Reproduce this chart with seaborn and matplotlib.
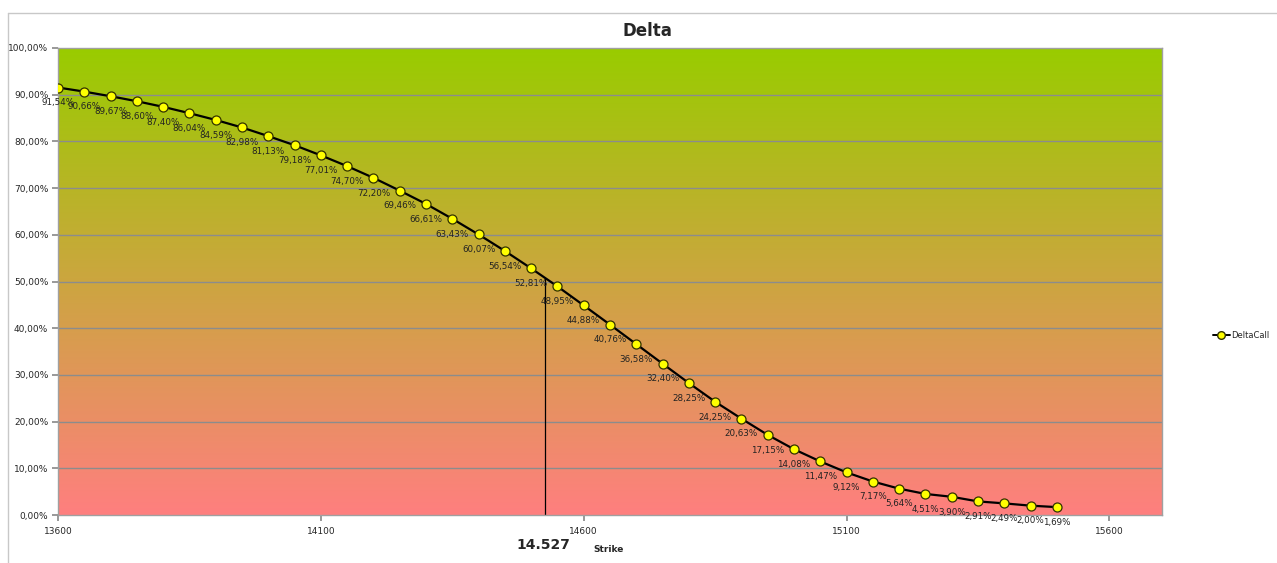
import numpy as np
import pandas as pd
import matplotlib
matplotlib.use("Agg")
import matplotlib.pyplot as plt
from matplotlib.colors import LinearSegmentedColormap
from matplotlib.ticker import FuncFormatter
from matplotlib.lines import Line2D
import seaborn as sns

# Strike grid and call delta (%)
strikes = [13600, 13650, 13700, 13750, 13800, 13850, 13900, 13950, 14000, 14050,
           14100, 14150, 14200, 14250, 14300, 14350, 14400, 14450, 14500, 14550,
           14600, 14650, 14700, 14750, 14800, 14850, 14900, 14950, 15000, 15050,
           15100, 15150, 15200, 15250, 15300, 15350, 15400, 15450, 15500]
delta_call = [91.54, 90.66, 89.67, 88.60, 87.40, 86.04, 84.59, 82.98, 81.13, 79.18,
              77.01, 74.70, 72.20, 69.46, 66.61, 63.43, 60.07, 56.54, 52.81, 48.95,
              44.88, 40.76, 36.58, 32.40, 28.25, 24.25, 20.63, 17.15, 14.08, 11.47,
              9.12, 7.17, 5.64, 4.51, 3.90, 2.91, 2.49, 2.00, 1.69]
x_ticks = [13600, 14100, 14600, 15100, 15600]
spot = 14527

df = pd.DataFrame({"Strike": strikes, "DeltaCall": delta_call})

sns.set_theme(style="white")
plt.rcParams["font.family"] = ["DejaVu Sans"]

fig = plt.figure(figsize=(12.77, 5.63), dpi=100)
fig.patch.set_facecolor("white")
ax = fig.add_axes([58 / 1277, 1 - 515 / 563, (1162 - 58) / 1277, (515 - 48) / 563])

x_min, x_max = 13600, 15700
y_min, y_max = 0, 100

# vertical green-to-red background
grad = LinearSegmentedColormap.from_list("bg", ["#FF7F7F", "#99CC00"])
ax.imshow(np.linspace(0, 1, 256).reshape(-1, 1), cmap=grad, origin="lower",
          extent=[x_min, x_max, y_min, y_max], aspect="auto", zorder=0)

for yv in range(10, 100, 10):
    ax.axhline(yv, color="#8C8C8C", lw=1.0, zorder=1)

sns.lineplot(data=df, x="Strike", y="DeltaCall", ax=ax, color="black", lw=1.6,
             marker="o", markersize=6.5, markerfacecolor="#FFFF00",
             markeredgecolor="#333300", markeredgewidth=0.9, zorder=3)

for s, d in zip(strikes, delta_call):
    ax.annotate(f"{d:.2f}%".replace(".", ","), (s, d), xytext=(0, -11),
                textcoords="offset points", ha="center", va="center",
                fontsize=6.3, color="#222222", zorder=4)

# spot marker line
spot_delta = np.interp(spot, strikes, delta_call)
ax.plot([spot, spot], [0, spot_delta], color="black", lw=0.9, zorder=2)

ax.set_xlim(x_min, x_max)
ax.set_ylim(y_min, y_max)
ax.set_xticks(x_ticks)
ax.set_xticklabels([str(t) for t in x_ticks], fontsize=6.5)
ax.set_yticks(range(0, 101, 10))
ax.yaxis.set_major_formatter(FuncFormatter(lambda v, p: f"{v:.2f}%".replace(".", ",")))
ax.tick_params(axis="y", labelsize=6.5, length=4, direction="out", color="#8C8C8C", pad=3, left=True)
ax.tick_params(axis="x", length=4, direction="out", color="#8C8C8C", pad=5, bottom=True)
for side in ["left", "bottom", "top", "right"]:
    ax.spines[side].set_color("#A0A0A0")
    ax.spines[side].set_linewidth(1.0)
ax.set_xlabel("")
ax.set_ylabel("")

fig.text(647 / 1277, 1 - 31 / 563, "Delta", ha="center", va="center",
         fontsize=12, fontweight="bold")
fig.text(543 / 1277, 1 - 545 / 563, "14.527", ha="center", va="center",
         fontsize=10, fontweight="bold")
fig.text(609 / 1277, 1 - 549 / 563, "Strike", ha="center", va="center",
         fontsize=6.5, fontweight="bold")

handle = Line2D([], [], color="black", lw=1.4, marker="o", markersize=5.5,
                markerfacecolor="#FFFF00", markeredgecolor="#333300")
fig.legend([handle], ["DeltaCall"], loc="center left",
           bbox_to_anchor=(1213 / 1277, 1 - 335 / 563), frameon=False,
           fontsize=6, handlelength=2.0, handletextpad=0.2, borderpad=0,
           borderaxespad=0)

# outer chart frame
fig.add_artist(Line2D([8 / 1277, 1], [1 - 13 / 563, 1 - 13 / 563], color="#C8C8C8", lw=1.0))
fig.add_artist(Line2D([8 / 1277, 8 / 1277], [0, 1 - 13 / 563], color="#C8C8C8", lw=1.0))

fig.savefig("out.png", dpi=100, facecolor="white")
